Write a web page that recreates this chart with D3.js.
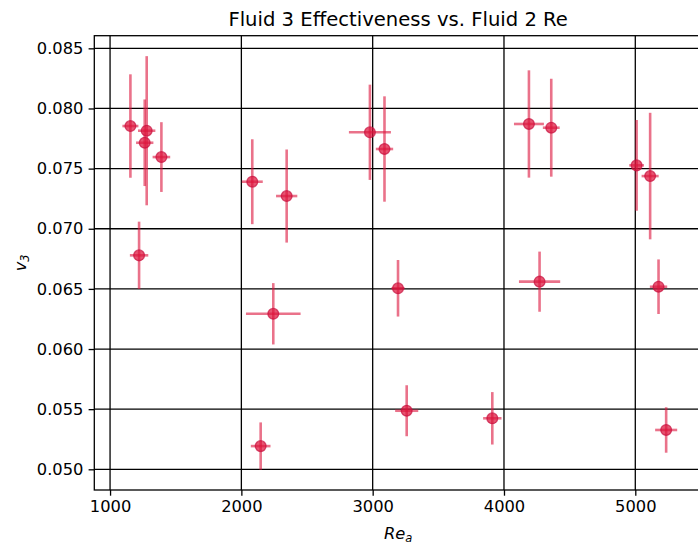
<!DOCTYPE html>
<html>
<head>
<meta charset="utf-8">
<script src="https://cdn.jsdelivr.net/npm/d3@7"></script>
<style>
  html, body { margin: 0; padding: 0; background: #fff; }
  svg { display: block; font-family: "DejaVu Sans", sans-serif; }
</style>
</head>
<body>
<svg id="chart" width="698" height="546"></svg>
<script>
// Data
const reValues = [1155, 1279, 1264, 1391, 1221, 2083, 2345, 2979, 3090, 4190, 4360, 5010, 5113, 2243, 2147, 3193, 4271, 5177, 3259, 3911, 5235];
const reErrors = [61, 66, 66, 67, 70, 80, 81, 160, 66, 114, 64, 56, 65, 208, 75, 50, 157, 66, 88, 70, 84];
const v3Values = [0.07854, 0.07815, 0.07715, 0.07596, 0.06779, 0.07391, 0.07272, 0.07802, 0.07663, 0.07871, 0.0784, 0.07527, 0.07438, 0.06293, 0.05193, 0.06505, 0.0656, 0.06518, 0.05487, 0.05424, 0.05327];
const v3Errors = [0.0043, 0.0062, 0.0036, 0.0029, 0.0028, 0.00353, 0.00387, 0.00396, 0.00438, 0.00446, 0.00407, 0.00377, 0.00526, 0.00255, 0.00197, 0.00235, 0.0025, 0.00227, 0.00212, 0.00218, 0.00189];
const xTicks = [1000, 2000, 3000, 4000, 5000];
const yTicks = [0.050, 0.055, 0.060, 0.065, 0.070, 0.075, 0.080, 0.085];
const titleText = "Fluid 3 Effectiveness vs. Fluid 2 Re";

const points = reValues.map((r, i) => ({ x: r, xe: reErrors[i], y: v3Values[i], ye: v3Errors[i] }));

const svg = d3.select("#chart");
const L = 94.3, R = 702, T = 35.7, B = 490;
const x = d3.scaleLinear().domain([880, 5508]).range([L, R]);
const y = d3.scaleLinear().domain([0.04828, 0.08605]).range([B, T]);

const tickFont = 16.3;
const markColor = "#dc143c";

// grid
const grid = svg.append("g");
grid.selectAll("line.gx").data(xTicks).join("line")
  .attr("x1", d => x(d)).attr("x2", d => x(d)).attr("y1", T).attr("y2", B)
  .attr("stroke", "#000").attr("stroke-width", 1.3);
grid.selectAll("line.gy").data(yTicks).join("line")
  .attr("x1", L).attr("x2", R).attr("y1", d => y(d)).attr("y2", d => y(d))
  .attr("stroke", "#000").attr("stroke-width", 1.3);

// axes
const xAxis = d3.axisBottom(x).tickValues(xTicks).tickFormat(d3.format("d")).tickSize(5.7).tickPadding(5.2);
const yAxis = d3.axisLeft(y).tickValues(yTicks).tickFormat(d3.format(".3f")).tickSize(5.7).tickPadding(5.2);
const gx = svg.append("g").attr("transform", `translate(0,${B})`).call(xAxis);
const gy = svg.append("g").attr("transform", `translate(${L},0)`).call(yAxis);
[gx, gy].forEach(g => {
  g.select(".domain").remove();
  g.selectAll(".tick line").attr("stroke", "#000").attr("stroke-width", 1.3);
  g.selectAll(".tick text").attr("font-family", "DejaVu Sans").attr("font-size", tickFont).attr("fill", "#000");
});

// error bars
const eb = svg.append("g");
eb.selectAll("line.ev").data(points).join("line")
  .attr("x1", d => x(d.x)).attr("x2", d => x(d.x))
  .attr("y1", d => y(d.y - d.ye)).attr("y2", d => y(d.y + d.ye))
  .attr("stroke", markColor).attr("stroke-opacity", 0.6).attr("stroke-width", 2.6);
eb.selectAll("line.eh").data(points).join("line")
  .attr("x1", d => x(d.x - d.xe)).attr("x2", d => x(d.x + d.xe))
  .attr("y1", d => y(d.y)).attr("y2", d => y(d.y))
  .attr("stroke", markColor).attr("stroke-opacity", 0.6).attr("stroke-width", 2.6);

// markers
svg.append("g").selectAll("circle").data(points).join("circle")
  .attr("cx", d => x(d.x)).attr("cy", d => y(d.y)).attr("r", 5.4)
  .attr("fill", markColor).attr("fill-opacity", 0.72)
  .attr("stroke", "#c8103f").attr("stroke-opacity", 0.7).attr("stroke-width", 1.3);

// frame
svg.append("rect").attr("x", L).attr("y", T).attr("width", R - L).attr("height", B - T)
  .attr("fill", "none").attr("stroke", "#000").attr("stroke-width", 1.3);

// title
svg.append("text").attr("x", (L + R) / 2).attr("y", 26).attr("text-anchor", "middle")
  .attr("font-size", 19.6).attr("fill", "#000").text(titleText);

// x label
const xl = svg.append("text").attr("x", (L + R) / 2).attr("y", 539).attr("text-anchor", "middle")
  .attr("font-size", 16.3).attr("font-style", "italic").attr("fill", "#000");
xl.append("tspan").text("Re");
xl.append("tspan").attr("font-size", 11.5).attr("dy", 3).text("a");

// y label
const yl = svg.append("text").attr("transform", `translate(26,${(T + B) / 2}) rotate(-90)`)
  .attr("text-anchor", "middle").attr("font-size", 16.3).attr("font-style", "italic").attr("fill", "#000");
yl.append("tspan").text("v");
yl.append("tspan").attr("font-size", 11.5).attr("dy", 3).text("3");
</script>
</body>
</html>
